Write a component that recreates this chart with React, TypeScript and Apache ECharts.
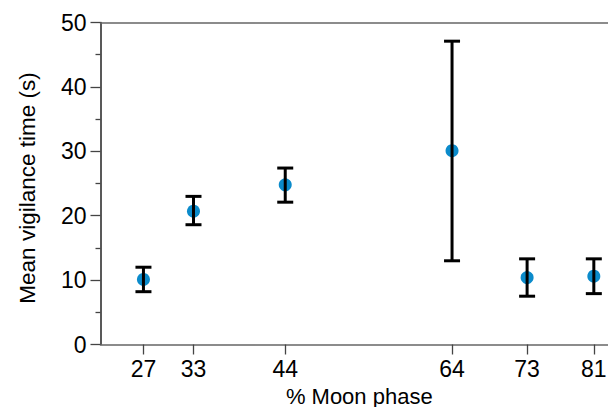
import React, { useEffect, useRef } from "react";
import * as echarts from "echarts";

const moonPhase = [27, 33, 44, 64, 73, 81];
const meanTime = [10.1, 20.7, 24.8, 30.1, 10.4, 10.6];
const lowerErr = [8.2, 18.6, 22.1, 13.0, 7.5, 7.9];
const upperErr = [12.0, 23.0, 27.4, 47.1, 13.3, 13.3];
const yTicks = [0, 10, 20, 30, 40, 50];

const FONT = "'Liberation Sans', Arial, Helvetica, sans-serif";

export default function App() {
  const ref = useRef<HTMLDivElement>(null);
  useEffect(() => {
    if (!ref.current) return;
    const chart = echarts.init(ref.current, undefined, { renderer: "svg" });
    const xMin = 21.85;
    const xMax = 82.7;
    chart.setOption({
      animation: false,
      grid: { left: 100.5, right: 0, top: 22.5, bottom: 62.5, outerBoundsMode: "none", containLabel: false },
      xAxis: [
        {
          type: "value",
          min: xMin,
          max: xMax,
          name: "% Moon phase",
          nameLocation: "middle",
          nameGap: 28,
          nameTextStyle: { fontFamily: FONT, fontSize: 22, lineHeight: 20, color: "#000", padding: [0, 0, 0, 10] },
          axisLine: { show: true, onZero: false, lineStyle: { color: "#666", width: 1.5 } },
          axisTick: { show: true, length: 10, customValues: moonPhase, lineStyle: { color: "#444", width: 1.3 } },
          axisLabel: { customValues: moonPhase, fontFamily: FONT, fontSize: 23, color: "#000", margin: 13 },
          splitLine: { show: false },
        },
        {
          type: "value",
          position: "top",
          min: xMin,
          max: xMax,
          axisLine: { show: true, onZero: false, lineStyle: { color: "#666", width: 1.5 } },
          axisTick: { show: false },
          axisLabel: { show: false },
          splitLine: { show: false },
        },
      ],
      yAxis: {
        type: "value",
        min: 0,
        max: 50,
        interval: 10,
        name: "Mean vigilance time (s)",
        nameLocation: "middle",
        nameGap: 62,
        nameTextStyle: { fontFamily: FONT, fontSize: 22.5, color: "#000", padding: [0, 9, 0, 0] },
        axisLine: { show: true, lineStyle: { color: "#222", width: 1.5 } },
        axisTick: { show: true, length: 10, lineStyle: { color: "#444", width: 1.3 } },
        minorTick: { show: true, splitNumber: 2, length: 5, lineStyle: { color: "#444", width: 1.3 } },
        axisLabel: {
          fontFamily: FONT,
          fontSize: 23,
          color: "#000",
          margin: 14,
          formatter: (v: number) => (yTicks.includes(v) ? String(v) : ""),
        },
        splitLine: { show: false },
      },
      series: [
        {
          type: "scatter",
          data: moonPhase.map((x, i) => [x, meanTime[i]]),
          symbol: "circle",
          symbolSize: 13,
          itemStyle: { color: "#0b8bcb", opacity: 1 },
          z: 2,
        },
        {
          type: "custom",
          z: 3,
          data: moonPhase.map((x, i) => [x, lowerErr[i], upperErr[i]]),
          renderItem: (params: any, api: any) => {
            const x = api.value(0);
            const lo = api.coord([x, api.value(1)]);
            const hi = api.coord([x, api.value(2)]);
            const hw = 8;
            const style = { stroke: "#000", lineWidth: 3 };
            return {
              type: "group",
              children: [
                { type: "line", shape: { x1: lo[0], y1: lo[1], x2: hi[0], y2: hi[1] }, style },
                { type: "line", shape: { x1: hi[0] - hw, y1: hi[1], x2: hi[0] + hw, y2: hi[1] }, style },
                { type: "line", shape: { x1: lo[0] - hw, y1: lo[1], x2: lo[0] + hw, y2: lo[1] }, style },
              ],
            };
          },
        },
      ],
    });
    return () => chart.dispose();
  }, []);
  return <div ref={ref} style={{ width: 608, height: 407, position: "absolute", left: 0, top: 0 }} />;
}
